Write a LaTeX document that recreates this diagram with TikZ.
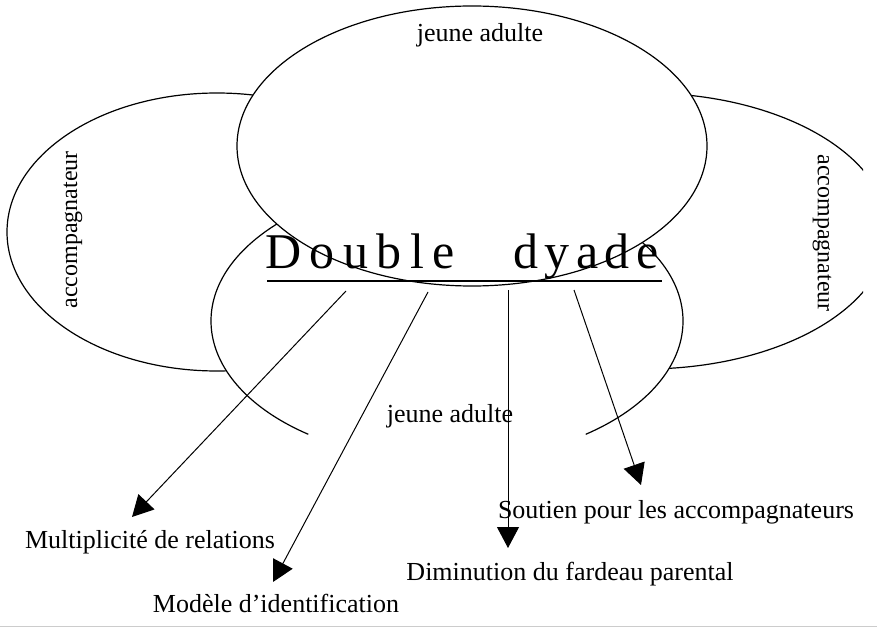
\documentclass[tikz,border=0pt]{standalone}
\usepackage{fontspec}
\setmainfont{Liberation Serif}
\usetikzlibrary{arrows.meta}
\begin{document}
\begin{tikzpicture}[x=1pt,y=-1pt]
\tikzstyle{blob}=[draw, line width=1.2pt, fill=white]
\tikzstyle{tag}=[font=\fontsize{26}{31}\selectfont, anchor=base, inner sep=0pt]
\tikzstyle{side}=[font=\fontsize{24}{28}\selectfont, inner sep=0pt]
\tikzstyle{big}=[font=\fontsize{50}{60}\selectfont, anchor=base west, inner sep=0pt]
\tikzstyle{link}=[line width=1pt, -{Triangle[length=21pt,width=22pt]}]
\useasboundingbox (0,0) rectangle (877,628);
% the two accompagnateurs
\draw[blob] (217,232) ellipse [x radius=210, y radius=139];
\begin{scope}
\clip (0,0) rectangle (863,628);
\draw[blob] (645,231) ellipse [x radius=243, y radius=138];
\end{scope}
% the two jeunes adultes
\draw[blob] (308.3,434.3) arc [start angle=126, end angle=414, x radius=236, y radius=140];
\draw[blob] (472,146) ellipse [x radius=235, y radius=140];
\node[big] (dbl) at (265,268) {\addfontfeature{LetterSpace=17}Double};
\node[big] (dya) at (513,268) {\addfontfeature{LetterSpace=13}dyade};
\draw[line width=1.2pt] (267,281) -- (662,281);
\node[tag] (jatop) at (480,42) {jeune adulte};
\node[tag] (jabot) at (450,422) {jeune adulte};
\node[side, rotate=90] (accl) at (73,230) {accompagnateur};
\node[side, rotate=-90] (accr) at (822,233) {accompagnateur};
\node[tag] (multi) at (150,548) {Multiplicité de relations};
\node[tag] (modele) at (276,612) {Modèle d’identification};
\node[tag] (dimin) at (570,580) {Diminution du fardeau parental};
\node[tag] (soutien) at (676,518) {Soutien pour les accompagnateurs};
\coordinate (s1) at (346,291);
\coordinate (s2) at (428,292);
\coordinate (s3) at (508,290);
\coordinate (s4) at (574,290);
\coordinate (e1) at (132,517);
\coordinate (e2) at (273,582);
\coordinate (e3) at (508,548);
\coordinate (e4) at (641,485);
\draw[link] (s1) -- (e1);
\draw[link] (s2) -- (e2);
\draw[link] (s3) -- (e3);
\draw[link] (s4) -- (e4);
\draw[gray!40, line width=1pt] (0,626) -- (877,626);
\end{tikzpicture}
\end{document}
